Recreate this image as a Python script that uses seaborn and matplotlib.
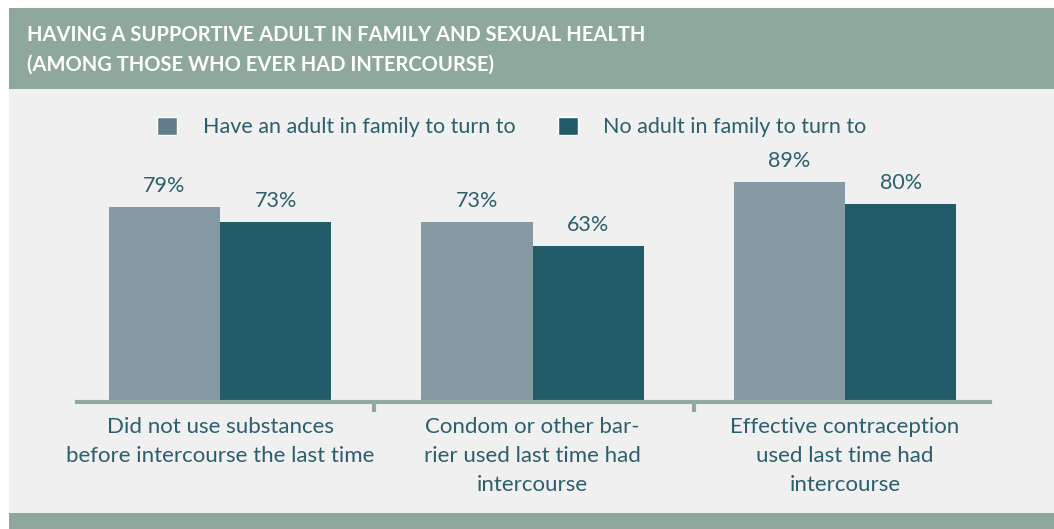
import matplotlib
matplotlib.use("Agg")
import matplotlib.pyplot as plt
import seaborn as sns
import pandas as pd
from matplotlib.patches import Rectangle

categories = ["Did not use substances\nbefore intercourse the last time",
              "Condom or other bar-\nrier used last time had\nintercourse",
              "Effective contraception\nused last time had\nintercourse"]
series_names = ["Have an adult in family to turn to", "No adult in family to turn to"]
have_adult = [79, 73, 89]
no_adult = [73, 63, 80]

title = "HAVING A SUPPORTIVE ADULT IN FAMILY AND SEXUAL HEALTH\n(AMONG THOSE WHO EVER HAD INTERCOURSE)"

df = pd.DataFrame({
    "cat": categories * 2,
    "grp": [series_names[0]] * 3 + [series_names[1]] * 3,
    "val": have_adult + no_adult,
})

sns.set_theme(style="white")
plt.rcParams['font.family'] = ['Lato', 'DejaVu Sans']

W, H = 1054, 529
fig = plt.figure(figsize=(W / 100, H / 100), dpi=100)
fig.patch.set_facecolor("white")

def fx(px): return px / W
def fy(py): return 1 - py / H

bg = "#f0f0f0"
green = "#8ea99c"
txt = "#2b5f6d"
c_gray = "#8799a2"
c_teal = "#225c69"

fig.patches.append(Rectangle((fx(9), fy(513)), 1 - fx(9), fy(89) - fy(513),
                             transform=fig.transFigure, facecolor=bg, edgecolor="none", zorder=-5))
fig.patches.append(Rectangle((fx(9), fy(89)), 1 - fx(9), fy(8) - fy(89),
                             transform=fig.transFigure, facecolor=green, edgecolor="none", zorder=-5))
fig.patches.append(Rectangle((fx(9), 0), 1 - fx(9), fy(513),
                             transform=fig.transFigure, facecolor=green, edgecolor="none", zorder=-5))

fig.text(fx(27), fy(50), title, color="white", fontsize=14.5, fontweight="bold",
         va="center", ha="left", linespacing=1.6)

# axes: x from px 77 to 990, y 0 at px 402, 100 at px 155
ax = fig.add_axes([fx(77), fy(402), fx(990) - fx(77), fy(155) - fy(402)])
ax.set_facecolor("none")
ax.set_zorder(2)

sns.barplot(data=df, x="cat", y="val", hue="grp", order=categories, hue_order=series_names,
            palette=[c_gray, c_teal], width=0.712, gap=0, saturation=1, ax=ax,
            legend=False, errorbar=None, linewidth=0, edgecolor="none")

ax.set_ylim(0, 100)
ax.set_xlim(-0.458, 2.464)
for s in ["top", "right", "left"]:
    ax.spines[s].set_visible(False)
ax.spines["bottom"].set_color("#8fab9e")
ax.spines["bottom"].set_linewidth(3)
ax.set_yticks([])
ax.set_xlabel("")
ax.set_ylabel("")
ax.set_xticks([0, 1, 2])
ax.set_xticklabels(categories, color=txt, fontsize=16, linespacing=1.58)
ax.set_xticks([0.493, 1.517], minor=True)
ax.tick_params(axis="x", which="major", length=0, pad=10.5, bottom=False)
ax.tick_params(axis="x", which="minor", length=7, width=3, color="#8fab9e",
               direction="out", bottom=True, labelbottom=False)

for cont in ax.containers:
    ax.bar_label(cont, labels=[f"{v:.0f}%" for v in cont.datavalues], padding=8,
                 color=txt, fontsize=15.5)

# legend
handles = [Rectangle((0, 0), 1, 1, facecolor="#627e8a"), Rectangle((0, 0), 1, 1, facecolor=c_teal)]
fig.legend(handles, series_names, loc="center", bbox_to_anchor=(fx(512), fy(127)), ncol=2,
           frameon=False, fontsize=15.5, labelcolor=txt, handlelength=0.9, handleheight=0.9,
           handletextpad=1.2, columnspacing=2.0)

fig.savefig("out.png", dpi=100, facecolor=fig.get_facecolor())
